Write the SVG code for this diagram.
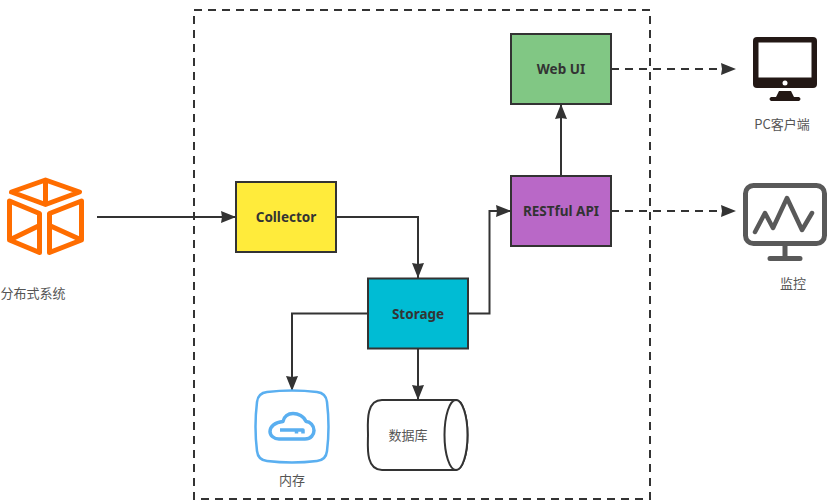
<svg xmlns="http://www.w3.org/2000/svg" width="834" height="504" viewBox="0 0 834 504">
<style>
text{fill:#333;text-anchor:middle}
.cap{font-size:13px;fill:#555;font-family:"Noto Sans CJK SC","Liberation Sans",sans-serif}
.title{font-size:13.500px;font-weight:bold;font-family:"Noto Sans","Noto Sans CJK SC",sans-serif}
.box{stroke:#333;stroke-width:2}
.wire{fill:none;stroke:#333;stroke-width:2}
.dash{stroke-dasharray:8 6}
</style>
<defs>
<marker id="arrow" markerUnits="userSpaceOnUse" markerWidth="16" markerHeight="14" refX="15" refY="7" orient="auto"><path d="M0 1L15 7L0 13L1 7z" fill="#333"/></marker>
</defs>
<rect id="boundary" x="194" y="10" width="456" height="489" fill="none" stroke="#333" stroke-width="2" stroke-dasharray="8 6"/>
<g id="connectors">
<path class="wire" marker-end="url(#arrow)" d="M97 217H236"/>
<path class="wire" marker-end="url(#arrow)" d="M336 217H418V278"/>
<path class="wire" marker-end="url(#arrow)" d="M468 313.500H489.500V211H511"/>
<path class="wire" marker-end="url(#arrow)" d="M561 176V104"/>
<path class="wire" marker-end="url(#arrow)" d="M368 313.500H292V391"/>
<path class="wire" marker-end="url(#arrow)" d="M418 348V400"/>
<path class="wire dash" marker-end="url(#arrow)" d="M611 69H736"/>
<path class="wire dash" marker-end="url(#arrow)" d="M611 211H736"/>
</g>
<g id="source">
<g fill="none" stroke="#ff6d00" stroke-width="5" stroke-linejoin="round">
<path d="M11.500 192L45.500 180L79.500 192L45.500 204.500z"/>
<path d="M45.500 180V204"/>
<path d="M9.500 201L39.500 213.500V252.500L9.500 240z"/>
<path d="M81.500 201L49.500 213.500V252.500L81.500 240z"/>
<path d="M9.500 240L39.500 225.500M81.500 240L49.500 225.500"/>
</g>
<text class="cap" x="33" y="298">分布式系统</text>
</g>
<g id="collector"><rect class="box" x="236" y="182" width="100" height="70" fill="#ffeb3b"/><text class="title" x="286" y="222">Collector</text></g>
<g id="storage"><rect class="box" x="368" y="278.500" width="100" height="70" fill="#00bcd4"/><text class="title" x="418" y="319">Storage</text></g>
<g id="restful"><rect class="box" x="511" y="176" width="100" height="70" fill="#b968c7"/><text class="title" x="561" y="216">RESTful API</text></g>
<g id="webui"><rect class="box" x="511" y="34" width="100" height="70" fill="#81c784"/><text class="title" x="561" y="74">Web UI</text></g>
<g id="memory">
<path d="M267 392Q292 389 317 392Q326 393 327 402Q330 427 327 451Q326 460 317 461Q292 464 267 461Q258 460 257 451Q254 427 257 402Q258 393 267 392z" fill="#fff" stroke="#5aaff0" stroke-width="2.500"/>
<path d="M279 439H305C311 439 314 434.500 314 430.500C314 425.500 310 421.500 306 421.500C304 416 298 413.500 293 413.500C288 413.500 284 416.500 283 421.500C275 422 270 426.500 270 431.500C270 435.500 274 439 279 439zM280 430H303V433.500M296.500 430V433.500" fill="none" stroke="#5aaff0" stroke-width="3.500" stroke-linejoin="round"/>
<text class="cap" x="292" y="485">内存</text>
</g>
<g id="database">
<path d="M382 400H456A11.500 35 0 0 1 456 470H382C365 470 368 445 368 435C368 425 365 400 382 400z" fill="#fff" stroke="#333" stroke-width="2"/>
<ellipse cx="456" cy="435" rx="11.500" ry="35" fill="#fff" stroke="#333" stroke-width="2"/>
<text class="cap" x="408" y="440">数据库</text>
</g>
<g id="pc">
<rect x="753" y="37" width="64" height="51" rx="4" fill="#231815"/>
<rect x="758.500" y="42.500" width="53" height="35" fill="#fff"/>
<circle cx="785" cy="83" r="2.500" fill="#fff"/>
<path d="M779 91H791L794 97H799Q802 99 799 101H771Q768 99 771 97H776z" fill="#231815"/>
<text class="cap" x="782" y="129">PC客户端</text>
</g>
<g id="monitor">
<rect x="745.500" y="185.500" width="79" height="58" rx="8" fill="none" stroke="#595959" stroke-width="5"/>
<path d="M755 232L765 213L773 228L787 198L802 230L812 213" fill="none" stroke="#595959" stroke-width="4.500" stroke-linecap="round" stroke-linejoin="round"/>
<path d="M785 246V258M770 258.500H800" fill="none" stroke="#595959" stroke-width="5" stroke-linecap="round"/>
<text class="cap" x="793" y="288">监控</text>
</g>
</svg>
